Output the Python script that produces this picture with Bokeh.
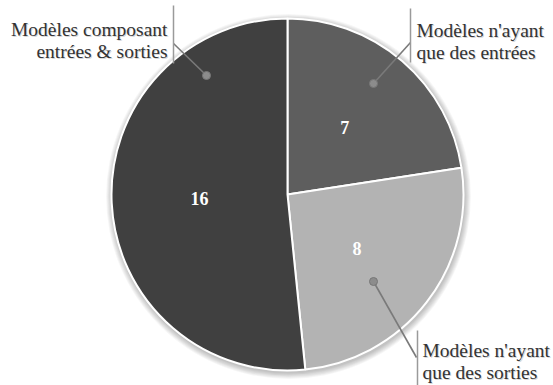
import math
from bokeh.plotting import figure
from bokeh.models import Range1d
from bokeh.core.properties import value
from bokeh.embed import file_html
from bokeh.resources import INLINE

# ---- data ----
categories = ["Modèles n'ayant que des entrées",
              "Modèles n'ayant que des sorties",
              "Modèles composant entrées & sorties"]
counts = [7, 8, 16]
slice_colors = ["#5e5e5e", "#b3b3b3", "#404040"]
label_lines = [["Modèles n'ayant", "que des entrées"],
               ["Modèles n'ayant", "que des sorties"],
               ["Modèles composant", "entrées & sorties"]]

W, H = 553, 385
FONT = value("Liberation Serif, serif")

def Y(sy):  # screen y -> data y
    return H - sy

p = figure(width=W, height=H, output_backend="svg", toolbar_location=None,
           x_range=Range1d(0, W), y_range=Range1d(0, H),
           min_border=0, outline_line_color=None)
p.axis.visible = False
p.grid.visible = False
p.background_fill_color = "white"
p.border_fill_color = "white"

cx, cy, r = 287, Y(194), 176
total = sum(counts)

# soft shadow
for k in range(7):
    p.circle(x=[cx + 1], y=[cy - 2], radius=r + 1 + k * 0.9, fill_color="black",
             fill_alpha=0.035, line_color=None)

starts, ends, mids = [], [], []
cum = 0
for c in counts:
    a0 = math.pi / 2 - 2 * math.pi * cum / total
    cum += c
    a1 = math.pi / 2 - 2 * math.pi * cum / total
    starts.append(a0); ends.append(a1); mids.append((a0 + a1) / 2)

p.wedge(x=[cx] * 3, y=[cy] * 3, radius=r, start_angle=starts, end_angle=ends,
        direction="clock", fill_color=slice_colors, line_color="white", line_width=2)

# value labels at half radius
vx = [cx + 0.5 * r * math.cos(m) for m in mids]
vy = [cy + 0.5 * r * math.sin(m) for m in mids]
p.text(x=vx, y=vy, text=[str(c) for c in counts], text_color="white",
       text_font=FONT, text_font_size="18px", text_font_style="bold",
       text_align="center", text_baseline="middle")

# callouts (layout)
dots = [(373, 83), (373, 281), (206, 75)]
bar_ends = [(410, 42), (416, 357), (173, 43)]
bars = [(410, 8, 62), (417, 330, 385), (173, 5, 63)]
text_pos = [(416, 30, "left"), (422, 350, "left"), (167, 29, "right")]

for (dx, dy), (bx, by) in zip(dots, bar_ends):
    p.line(x=[dx, bx], y=[Y(dy), Y(by)], line_color="#7a7a7a", line_width=1.6)
p.scatter(x=[d[0] for d in dots], y=[Y(d[1]) for d in dots], size=8,
          fill_color="#8c8c8c", line_color="#777777", line_width=1)
for bx, y0, y1 in bars:
    p.line(x=[bx, bx], y=[Y(y0), Y(y1)], line_color="#9a9a9a", line_width=1.5)

for lines, (tx, ty, align) in zip(label_lines, text_pos):
    for i, s in enumerate(lines):
        p.text(x=[tx + 1], y=[Y(ty + 21.5 * i) - 1.2], text=[s], text_color="#bbbbbb",
               text_alpha=0.6, text_font=FONT, text_font_size="19.5px",
               text_align=align, text_baseline="alphabetic")
        p.text(x=[tx], y=[Y(ty + 21.5 * i)], text=[s], text_color="#333333",
               text_font=FONT, text_font_size="19.5px",
               text_align=align, text_baseline="alphabetic")

open("out.html", "w").write(file_html(p, INLINE))
